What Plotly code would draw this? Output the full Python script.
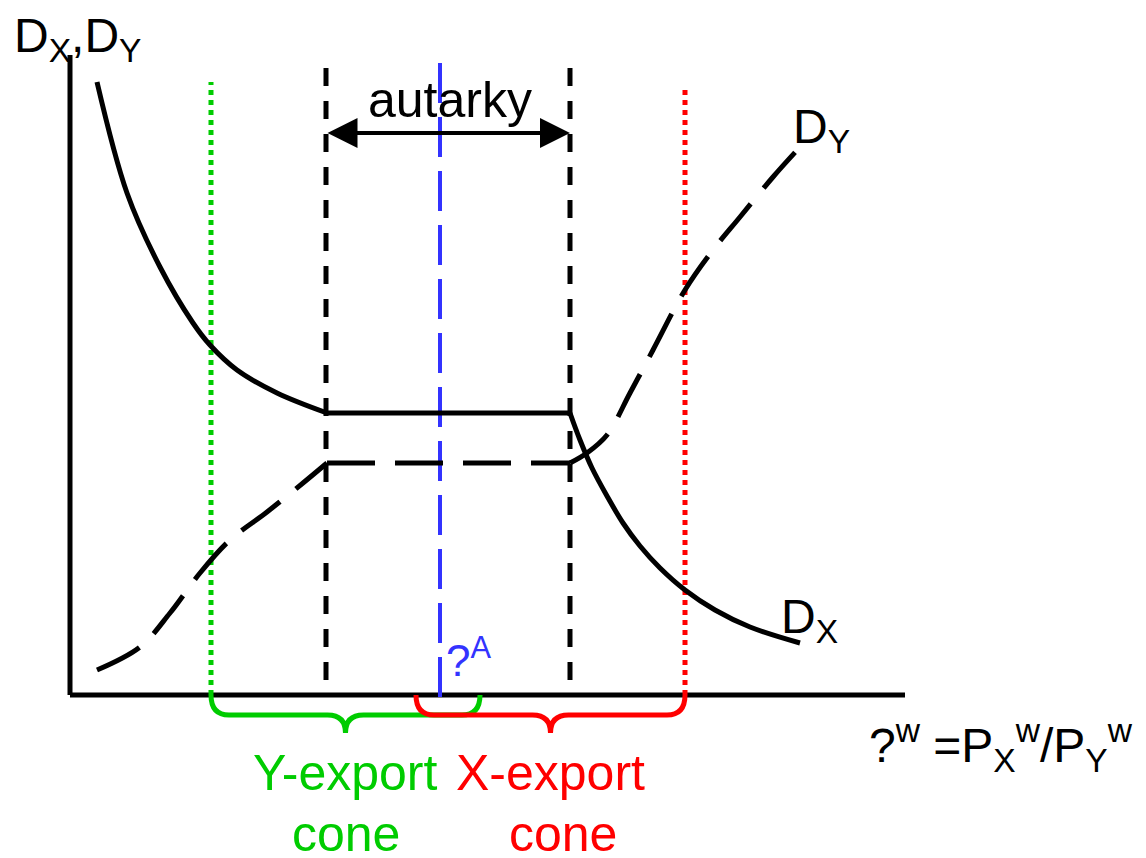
import plotly.graph_objects as go

# ---------------- data (diagram units: origin at axis corner) ----------------
dx_left_x = [27, 57, 90, 123, 140, 167, 207, 257]
dx_left_y = [613, 502, 428, 372, 350, 325, 302, 282]
dx_flat_x = [257, 500]
dx_flat_y = [282, 282]
dx_right_x = [500, 510, 522, 537, 553, 570, 590, 615, 645, 680, 730]
dx_right_y = [282, 255, 227, 199, 172, 149, 127, 105, 85, 68, 52]

dy_left_x = [27, 70, 100, 130, 160, 197, 233, 257]
dy_left_y = [25, 48, 82, 122, 155, 183, 212, 232]
dy_flat_x = [257, 500]
dy_flat_y = [232, 232]
dy_right_x = [500, 517, 537, 560, 583, 615, 643, 670, 703, 730]
dy_right_y = [232, 242, 260, 302, 345, 405, 445, 478, 518, 548]

autarky_bounds = [256, 500]      # black dashed verticals
autarky_price = [370]            # blue dashed vertical
y_export_bounds = [141, 410]     # green cone
x_export_bounds = [346, 615]     # red cone
axis_x_end = 835
axis_y_end = 640

FONT = "Arial, Liberation Sans, sans-serif"
GREEN = "#00cc00"
RED = "#ff0000"
BLUE = "#3333ff"

W, H = 1146, 858

fig = go.Figure()

def line(x, y, color="black", width=5, dash=None, shape="linear"):
    fig.add_trace(go.Scatter(x=x, y=y, mode="lines",
                             line=dict(color=color, width=width, dash=dash, shape=shape, smoothing=1.0),
                             hoverinfo="skip", showlegend=False))

# axes
line([0, 0], [0, axis_y_end])
line([0, axis_x_end], [0, 0])

# vertical guides
line([y_export_bounds[0]] * 2, [0, 613], color=GREEN, width=5, dash="5px,5px")
line([x_export_bounds[1]] * 2, [0, 610], color=RED, width=5, dash="5px,5px")
for xv in autarky_bounds:
    line([xv, xv], [15, 640], width=5, dash="18px,15px")
line([autarky_price[0]] * 2, [-2, 640], color=BLUE, width=4, dash="40px,14px")

# D_X solid
line(dx_left_x, dx_left_y, shape="spline")
line(dx_flat_x, dx_flat_y)
line(dx_right_x, dx_right_y, shape="spline")

# D_Y dashed
line(dy_left_x, dy_left_y, dash="48px,20px", shape="spline")
line(dy_flat_x, dy_flat_y, dash="48px,20px")
line(dy_right_x, dy_right_y, dash="48px,20px", shape="spline")

# braces
def brace_path(x0, x1, r=18, depth=20, tip=38):
    xm = (x0 + x1) / 2
    return (f"M {x0},0 Q {x0},{-depth} {x0 + r},{-depth} L {xm - r},{-depth} "
            f"Q {xm},{-depth} {xm},{-tip} Q {xm},{-depth} {xm + r},{-depth} "
            f"L {x1 - r},{-depth} Q {x1},{-depth} {x1},0")

fig.add_shape(type="path", path=brace_path(*y_export_bounds), xref="x", yref="y",
              line=dict(color=GREEN, width=5))
fig.add_shape(type="path", path=brace_path(*x_export_bounds), xref="x", yref="y",
              line=dict(color=RED, width=5))

# autarky arrow
fig.add_annotation(x=autarky_bounds[1], y=562, ax=autarky_bounds[0], ay=562,
                   xref="x", yref="y", axref="x", ayref="y", text="",
                   showarrow=True, arrowhead=2, arrowside="end+start",
                   arrowsize=1.5, arrowwidth=4, arrowcolor="black")

def label(x, y, text, color="black", size=48, xanchor="center", yanchor="middle"):
    fig.add_annotation(x=x, y=y, xref="x", yref="y", text=text, showarrow=False,
                       font=dict(family=FONT, size=size, color=color),
                       xanchor=xanchor, yanchor=yanchor)

label(380, 595, "autarky", size=50)
label(-58, 656, "D<sub>X</sub>,D<sub>Y</sub>", xanchor="left")
label(721, 565, "D<sub>Y</sub>", xanchor="left")
label(709, 75, "D<sub>X</sub>", xanchor="left")
label(374, 38, "?<sup>A</sup>", color=BLUE, size=44, xanchor="left")
label(797, -50, "?<sup>w</sup> =P<sub>X</sub><sup>w</sup>/P<sub>Y</sub><sup>w</sup>",
      size=48, xanchor="left")
label(275, -78, "Y-export", color=GREEN, size=50)
label(276, -139, "cone", color=GREEN, size=50)
label(480, -78, "X-export", color=RED, size=50)
label(493, -139, "cone", color=RED, size=50)

# cut-off title at top (only the bottom sliver shows)
fig.add_annotation(x=502 / W, y=1 - 18.5 / H, xref="paper", yref="paper",
                   text="Presence of Trade Costs", showarrow=False,
                   font=dict(family=FONT, size=78, color="black"),
                   xanchor="center", yanchor="bottom")

fig.update_layout(width=W, height=H, margin=dict(l=0, r=0, t=0, b=0),
                  paper_bgcolor="white", plot_bgcolor="white",
                  xaxis=dict(range=[-70, -70 + W], visible=False, fixedrange=True),
                  yaxis=dict(range=[695 - H, 695], visible=False, fixedrange=True),
                  showlegend=False)

fig.write_html("out.html", config={"displayModeBar": False},
               post_script="document.body.style.margin='0';document.body.style.overflow='hidden';")
